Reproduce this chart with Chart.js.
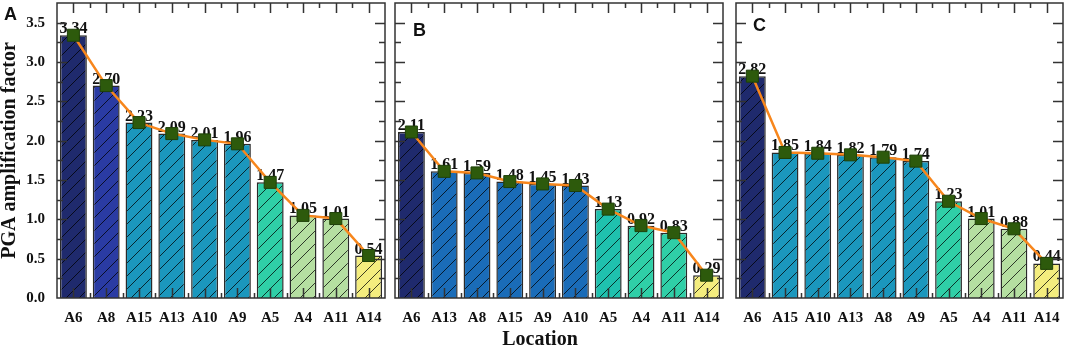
<!DOCTYPE html>
<html>
<head>
<meta charset="utf-8">
<script src="https://cdn.jsdelivr.net/npm/chart.js@4.4.0/dist/chart.umd.min.js"></script>
<style>
  body { margin: 0; background: #fff; width: 1065px; height: 346px; position: relative; overflow: hidden; }
  .panel { position: absolute; top: 0; height: 346px; }
  .letter { position: absolute; font-family: "Liberation Sans", Arial, sans-serif; font-weight: bold; font-size: 18px; line-height: 1; color: #111; }
  #xtitle { position: absolute; left: 540px; top: 328px; transform: translateX(-50%); font-family: "Liberation Serif", "Times New Roman", serif; font-weight: bold; font-size: 20px; line-height: 1; color: #111; white-space: nowrap; }
</style>
</head>
<body>
<div class="panel" style="left:0px;width:390px"><canvas id="chartA"></canvas></div>
<div class="panel" style="left:390px;width:338px"><canvas id="chartB"></canvas></div>
<div class="panel" style="left:731px;width:334px"><canvas id="chartC"></canvas></div>
<div class="letter" style="left:4px;top:5px">A</div>
<div class="letter" style="left:413px;top:21px">B</div>
<div class="letter" style="left:753px;top:16px">C</div>
<div id="xtitle">Location</div>
<script>
// --- Dados ---
const locationsA = ['A6', 'A8', 'A15', 'A13', 'A10', 'A9', 'A5', 'A4', 'A11', 'A14'];
const valuesA = [3.34, 2.70, 2.23, 2.09, 2.01, 1.96, 1.47, 1.05, 1.01, 0.54];

const locationsB = ['A6', 'A13', 'A8', 'A15', 'A9', 'A10', 'A5', 'A4', 'A11', 'A14'];
const valuesB = [2.11, 1.61, 1.59, 1.48, 1.45, 1.43, 1.13, 0.92, 0.83, 0.29];

const locationsC = ['A6', 'A15', 'A10', 'A13', 'A8', 'A9', 'A5', 'A4', 'A11', 'A14'];
const valuesC = [2.82, 1.85, 1.84, 1.82, 1.79, 1.74, 1.23, 1.01, 0.88, 0.44];

const yTicks = [0, 0.5, 1.0, 1.5, 2.0, 2.5, 3.0, 3.5];

// --- Cores ---
const NAVY = '#1f2a6d', ROYAL = '#2a3ba3', TEAL = '#1b97bd', BLUE = '#1a6cb8';
const TURQ = '#2fcfa7', TURQ_B = '#1fc1ae', LGREEN = '#b5dfa1', YELLOW = '#f4ed7e';

const colorsA = [NAVY, ROYAL, TEAL, TEAL, TEAL, TEAL, TURQ, LGREEN, LGREEN, YELLOW];
const colorsB = [NAVY, BLUE, BLUE, BLUE, BLUE, BLUE, TURQ_B, TURQ, TURQ, YELLOW];
const colorsC = [NAVY, TEAL, TEAL, TEAL, TEAL, TEAL, TURQ, LGREEN, LGREEN, YELLOW];

const SERIF = '"Liberation Serif", "Times New Roman", serif';

// hachura diagonal "/"
function hatch(color) {
    const c = document.createElement('canvas');
    c.width = 13; c.height = 13;
    const g = c.getContext('2d');
    g.fillStyle = color;
    g.fillRect(0, 0, 13, 13);
    g.strokeStyle = 'rgba(0,0,0,0.75)';
    g.lineWidth = 1;
    g.beginPath();
    g.moveTo(-1, 14); g.lineTo(14, -1);
    g.moveTo(-1, 1); g.lineTo(1, -1);
    g.moveTo(12, 14); g.lineTo(14, 12);
    g.stroke();
    return g.createPattern(c, 'repeat');
}

// moldura + ticks para dentro
const frameTicks = {
    id: 'frameTicks',
    afterDraw(chart) {
        const { ctx, chartArea: a, scales: { x, y } } = chart;
        ctx.save();
        ctx.strokeStyle = '#333';
        ctx.lineWidth = 1.5;
        ctx.beginPath();
        for (let v = 0.25; v < 3.75; v += 0.25) {
            const py = Math.round(y.getPixelForValue(v)) + 0.5;
            const len = Math.round(v * 4) % 2 === 0 ? 10 : 6;
            ctx.moveTo(a.left, py); ctx.lineTo(a.left + len, py);
            ctx.moveTo(a.right, py); ctx.lineTo(a.right - len, py);
        }
        const n = chart.data.labels.length;
        for (let i = 0; i < n; i++) {
            const px = Math.round(x.getPixelForValue(i)) + 0.5;
            ctx.moveTo(px, a.bottom); ctx.lineTo(px, a.bottom - 10);
            ctx.moveTo(px, a.top); ctx.lineTo(px, a.top + 10);
            if (i < n - 1) {
                const pb = Math.round((x.getPixelForValue(i) + x.getPixelForValue(i + 1)) / 2) + 0.5;
                ctx.moveTo(pb, a.bottom); ctx.lineTo(pb, a.bottom - 5);
                ctx.moveTo(pb, a.top); ctx.lineTo(pb, a.top + 5);
            }
        }
        ctx.stroke();
        ctx.strokeRect(a.left, a.top, a.right - a.left, a.bottom - a.top);
        ctx.restore();
    }
};

// rótulos dos valores (desenhados antes da linha)
const valueLabels = {
    id: 'valueLabels',
    afterDatasetDraw(chart, args) {
        if (args.meta.type !== 'bar') return;
        const ctx = chart.ctx;
        ctx.save();
        ctx.font = 'bold 16px ' + SERIF;
        ctx.fillStyle = '#111';
        ctx.textAlign = 'center';
        ctx.textBaseline = 'alphabetic';
        args.meta.data.forEach((bar, i) => {
            const v = chart.data.datasets[args.index].data[i];
            ctx.fillText(v.toFixed(2), bar.x, bar.y - 2);
        });
        ctx.restore();
    }
};

function noPad(s) {
    s.paddingTop = 0; s.paddingBottom = 0; s.paddingLeft = 0; s.paddingRight = 0;
}

function makePanel(id, labels, values, colors, showY, yWidth, padRight) {
    const ctx = document.getElementById(id).getContext('2d');
    return new Chart(ctx, {
        type: 'bar',
        data: {
            labels: labels,
            datasets: [{
                type: 'line',
                data: values,
                borderColor: '#f7861c',
                borderWidth: 2.5,
                pointStyle: 'rect',
                pointRadius: 8.5,
                pointBackgroundColor: '#2d5a0c',
                pointBorderColor: '#1e4008',
                pointBorderWidth: 1,
                tension: 0,
                clip: false,
                order: 0
            }, {
                type: 'bar',
                data: values,
                backgroundColor: colors.map(hatch),
                borderColor: '#2a2a2a',
                borderWidth: 1.5,
                barPercentage: 0.82,
                categoryPercentage: 1,
                order: 1
            }]
        },
        options: {
            responsive: true,
            maintainAspectRatio: false,
            animation: false,
            layout: { autoPadding: false, padding: { top: 3, right: padRight, bottom: 0, left: 0 } },
            plugins: { legend: { display: false }, tooltip: { enabled: false } },
            scales: {
                x: {
                    offset: true,
                    grid: { display: false, drawTicks: false },
                    border: { display: false },
                    ticks: {
                        font: { family: SERIF, size: 15, weight: 'bold' },
                        color: '#111', padding: 11, maxRotation: 0, autoSkip: false
                    },
                    afterFit(s) { s.height = 48; noPad(s); }
                },
                y: {
                    min: 0, max: 3.75,
                    grid: { display: false, drawTicks: false },
                    border: { display: false },
                    ticks: {
                        display: showY,
                        stepSize: 0.25,
                        callback: v => yTicks.some(t => Math.abs(t - v) < 1e-6) ? v.toFixed(1) : '',
                        font: { family: SERIF, size: 15, weight: 'bold' },
                        color: '#111', padding: 12
                    },
                    title: {
                        display: showY,
                        text: 'PGA amplification factor',
                        font: { family: SERIF, size: 20, weight: 'bold', lineHeight: 1 },
                        color: '#111',
                        padding: { top: 0, bottom: 0 }
                    },
                    afterFit(s) { s.width = yWidth; noPad(s); }
                }
            }
        },
        plugins: [valueLabels, frameTicks]
    });
}

makePanel('chartA', locationsA, valuesA, colorsA, true, 57, 5);
makePanel('chartB', locationsB, valuesB, colorsB, false, 5, 5);
makePanel('chartC', locationsC, valuesC, colorsC, false, 5, 2);
</script>
</body>
</html>
